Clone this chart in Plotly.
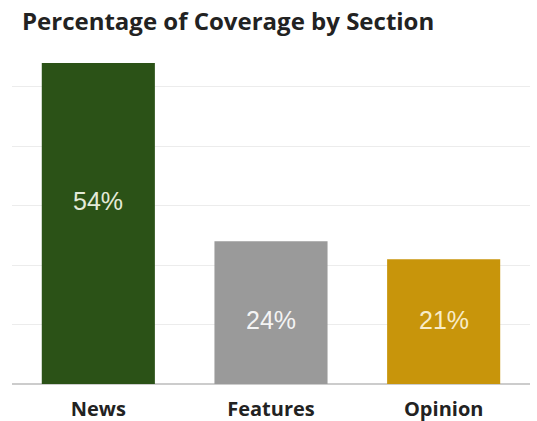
import plotly.graph_objects as go

# Share of coverage per section
sections = ["News", "Features", "Opinion"]
shares = [54, 24, 21]
bar_colors = ["#2b5217", "#9a9a9a", "#c8950b"]
label_colors = ["#e3ead9", "#f4f4f4", "#f8ecc8"]

# where each value label sits inside its bar (axis units)
label_y = [30.8, 10.7, 10.7]

fig = go.Figure(
    go.Bar(
        x=sections,
        y=shares,
        marker=dict(color=bar_colors, line=dict(width=0)),
        width=0.655,
        hoverinfo="skip",
    )
)

for name, val, ly, tc in zip(sections, shares, label_y, label_colors):
    fig.add_annotation(
        x=name, y=ly, text=f"{val}%", showarrow=False,
        font=dict(family="Liberation Sans, Arial, sans-serif", size=25, color=tc),
        xanchor="center", yanchor="middle",
    )

fig.update_layout(
    width=537,
    height=421,
    margin=dict(l=12, r=7, t=57, b=37),
    paper_bgcolor="white",
    plot_bgcolor="white",
    showlegend=False,
    title=dict(
        text="<b>Percentage of Coverage by Section</b>",
        x=22 / 537, xref="container", xanchor="left",
        y=1 - 22 / 421, yref="container", yanchor="middle",
        font=dict(family="Open Sans, sans-serif", size=24, color="#222222"),
    ),
    xaxis=dict(
        showgrid=False, showline=False, ticks="",
        tickfont=dict(family="Open Sans, sans-serif", size=20, color="#222222", weight="bold"),
        ticklabelstandoff=11,
        automargin=False,
    ),
    yaxis=dict(
        range=[0, 55], dtick=10, showticklabels=False,
        showgrid=True, gridcolor="#ececec", gridwidth=1,
        zeroline=True, zerolinecolor="#cccccc", zerolinewidth=1.5,
        showline=False, ticks="", automargin=False,
    ),
)

fig.write_html("out.html")
